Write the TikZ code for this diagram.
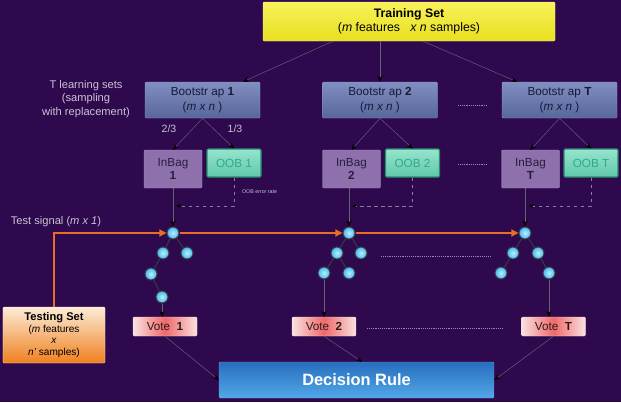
\documentclass[tikz,border=0pt]{standalone}
\usepackage{fontspec}
\setmainfont{Liberation Sans}
\usetikzlibrary{arrows.meta, positioning, calc}
\definecolor{bgpurple}{RGB}{46,9,78}
\definecolor{traintop}{RGB}{248,242,90}
\definecolor{trainbot}{RGB}{232,224,30}
\definecolor{trainedge}{RGB}{250,246,170}
\definecolor{boottop}{RGB}{128,142,192}
\definecolor{bootbot}{RGB}{88,102,155}
\definecolor{bootedge}{RGB}{140,155,205}
\definecolor{boottext}{RGB}{25,25,55}
\definecolor{bagfill}{RGB}{142,112,172}
\definecolor{bagedge}{RGB}{170,145,200}
\definecolor{bagtext}{RGB}{40,30,60}
\definecolor{oobtop}{RGB}{150,228,205}
\definecolor{oobbot}{RGB}{95,200,170}
\definecolor{oobedge}{RGB}{40,140,110}
\definecolor{oobtext}{RGB}{45,170,140}
\definecolor{voteside}{RGB}{250,225,225}
\definecolor{votemid}{RGB}{240,105,105}
\definecolor{voteedge}{RGB}{255,215,215}
\definecolor{votetext}{RGB}{50,25,25}
\definecolor{testtop}{RGB}{252,236,215}
\definecolor{testbot}{RGB}{240,128,30}
\definecolor{ruletop}{RGB}{40,110,190}
\definecolor{rulebot}{RGB}{82,168,232}
\definecolor{ruleedge}{RGB}{95,155,225}
\definecolor{leaflight}{RGB}{185,238,255}
\definecolor{leafblue}{RGB}{70,185,235}
\definecolor{leafedge}{RGB}{60,60,70}
\definecolor{sigorange}{RGB}{232,110,40}
\definecolor{notegray}{RGB}{200,195,210}
\definecolor{linegray}{RGB}{105,96,115}
\definecolor{dashgray}{RGB}{140,125,155}
\definecolor{dotgray}{RGB}{150,138,170}

\begin{document}
\begin{tikzpicture}[x=0.3mm, y=-0.3mm,
        box/.style={draw, rounded corners=1pt, inner sep=0pt, align=center},
        trainbox/.style={box, draw=trainedge, top color=traintop, bottom color=trainbot, text=black, minimum width=87.6mm, minimum height=11.7mm, font=\fontsize{10.5}{12}\selectfont},
        bootbox/.style={box, draw=bootedge, top color=boottop, bottom color=bootbot, text=boottext, minimum width=34.5mm, minimum height=10.8mm, font=\fontsize{10}{13}\selectfont},
        bagbox/.style={box, draw=bagedge, fill=bagfill, text=bagtext, minimum width=17.4mm, minimum height=11.4mm, font=\fontsize{10}{11.5}\selectfont},
        oobbox/.style={box, draw=oobedge, line width=1pt, top color=oobtop, bottom color=oobbot, text=oobtext, minimum width=16.2mm, minimum height=8.4mm, font=\fontsize{10}{12}\selectfont},
        votebox/.style={box, draw=voteedge, left color=voteside, right color=voteside, middle color=votemid, text=votetext, minimum width=19.2mm, minimum height=5.7mm, font=\fontsize{10}{12}\selectfont},
        testbox/.style={box, draw=testtop, top color=testtop, bottom color=testbot, text=black, minimum width=30.6mm, minimum height=16.8mm, font=\fontsize{8.6}{10.2}\selectfont},
        rulebox/.style={box, draw=ruleedge, top color=ruletop, bottom color=rulebot, text=white, minimum width=82.5mm, minimum height=10.8mm, font=\bfseries\fontsize{14}{16}\selectfont},
        leaf/.style={circle, draw=leafedge, line width=0.9pt, inner color=leaflight, outer color=leafblue, minimum size=3.6mm, inner sep=0pt},
        note/.style={text=notegray, align=center, font=\fontsize{9.5}{11.5}\selectfont},
        arr/.style={draw=linegray, -{Stealth[length=5pt, width=4pt, black]}},
        branch/.style={draw=leafedge, line width=0.8pt},
        signal/.style={draw=sigorange, line width=1.2pt, -{Triangle[length=6pt, width=6pt, sigorange]}},
        oobline/.style={draw=dashgray, dashed, -{Stealth[length=4pt, width=3.5pt, black]}},
        skipline/.style={draw=dotgray, densely dotted, line width=0.6pt}]

    \useasboundingbox (0,0) rectangle (621,402);
    \fill[bgpurple] (0,0) rectangle (621,402);

    % training set and bootstraps
    \node[trainbox] at (409,21.5) (train) {\textbf{Training Set}\\(\textit{m} features\ \ \ \textit{x n} samples)};
    \node[bootbox] at (202.5,100) (boot1) {Bootstr ap \textbf{1}\\(\textit{m x n} )};
    \node[bootbox] at (380,100) (boot2) {Bootstr ap \textbf{2}\\(\textit{m x n} )};
    \node[bootbox] at (559.5,100) (bootT) {Bootstr ap \textbf{T}\\(\textit{m x n} )};
    \node[note] at (86,99) (learn) {T learning sets\\(sampling\\with replacement)};

    % in-bag and out-of-bag sets
    \node[bagbox] at (173,169) (inbag1) {InBag\\\textbf{1}};
    \node[oobbox] at (234,163) (oob1) {OOB 1};
    \node[bagbox] at (351.5,169) (inbag2) {InBag\\\textbf{2}};
    \node[oobbox] at (412.5,163) (oob2) {OOB 2};
    \node[bagbox] at (530.5,169) (inbagT) {InBag\\\textbf{T}};
    \node[oobbox] at (591,163) (oobT) {OOB T};
    \node[note, font=\fontsize{9}{10}\selectfont] at (169,129) (twothird) {2/3};
    \node[note, font=\fontsize{9}{10}\selectfont] at (235,129) (onethird) {1/3};
    \node[note, anchor=west, font=\fontsize{4.5}{5}\selectfont] at (238,192) (ooberr) {OOB error rate};

    % trees
    \node[leaf] at (173,233) (r1) {};
    \node[leaf] at (163,253) (a1) {};
    \node[leaf] at (187,253) (b1) {};
    \node[leaf] at (151,274) (c1) {};
    \node[leaf] at (162,297) (d1) {};
    \node[leaf] at (349,233) (r2) {};
    \node[leaf] at (337,253) (a2) {};
    \node[leaf] at (361,253) (b2) {};
    \node[leaf] at (324,273) (c2) {};
    \node[leaf] at (349,273) (d2) {};
    \node[leaf] at (525,233) (rT) {};
    \node[leaf] at (513,253) (aT) {};
    \node[leaf] at (538,253) (bT) {};
    \node[leaf] at (501,273) (cT) {};
    \node[leaf] at (549,273) (dT) {};
    \draw[branch] (r1) -- (a1); \draw[branch] (r1) -- (b1);
    \draw[branch] (a1) -- (c1); \draw[branch] (c1) -- (d1);
    \draw[branch] (r2) -- (a2); \draw[branch] (r2) -- (b2);
    \draw[branch] (a2) -- (c2); \draw[branch] (a2) -- (d2);
    \draw[branch] (rT) -- (aT); \draw[branch] (rT) -- (bT);
    \draw[branch] (aT) -- (cT); \draw[branch] (bT) -- (dT);

    % votes, testing set, decision
    \node[votebox] at (165,326.5) (vote1) {Vote\ \ \textbf{1}};
    \node[votebox] at (324,326.5) (vote2) {Vote\ \ \textbf{2}};
    \node[votebox] at (553.5,326.5) (voteT) {Vote\ \ \textbf{T}};
    \node[testbox] at (54,335) (testset) {{\bfseries\fontsize{9.5}{10.2}\selectfont Testing Set}\\(\textit{m} features\\\textit{x}\\\textit{n'} samples)};
    \node[note] at (56,222) (testsig) {Test signal (\textit{m x 1})};
    \node[rulebox] at (356.5,380) (decision) {Decision Rule};

    % connectors
    \draw[arr] ($(train.south west)!0.24!(train.south east)$) -- (boot1);
    \draw[arr] (train.south -| boot2) -- (boot2);
    \draw[arr] ($(train.south west)!0.548!(train.south east)$) -- (bootT);
    \draw[arr] (boot1.south) -- (inbag1.north);
    \draw[arr] (boot1.south) -- (oob1.north);
    \draw[arr] (boot2.south) -- (inbag2.north);
    \draw[arr] (boot2.south) -- (oob2.north);
    \draw[arr] (bootT.south) -- (inbagT.north);
    \draw[arr] (bootT.south) -- (oobT.north);
    \draw[arr] (inbag1.south -| r1) -- (r1);
    \draw[arr] (inbag2.south -| r2) -- (r2);
    \draw[arr] (inbagT.south -| rT) -- (rT);
    \coordinate (m1) at (176,206);
    \coordinate (m2) at (352,206);
    \coordinate (mT) at (529,206);
    \draw[oobline] (oob1.south) |- (m1);
    \draw[oobline] (oob2.south) |- (m2);
    \draw[oobline] (oobT.south) |- (mT);
    \draw[signal] (testset.north) |- (r1);
    \draw[signal] (r1) -- (r2);
    \draw[signal] (r2) -- (rT);
    \draw[arr] (d1) -- (d1 |- vote1.north);
    \draw[arr] (c2) -- (c2 |- vote2.north);
    \draw[arr] (dT) -- (dT |- voteT.north);
    \draw[arr] (vote1.south) -- (decision.west);
    \draw[arr] (vote2.south) -- (decision.73);
    \draw[arr] (voteT.south) -- (decision.east);

    % gaps between columns
    \draw[skipline] (458,105) -- (487,105);
    \draw[skipline] (458,164) -- (487,164);
    \draw[skipline] (381,256) -- (490,256);
    \draw[skipline] (367,328) -- (503,328);
\end{tikzpicture}
\end{document}
